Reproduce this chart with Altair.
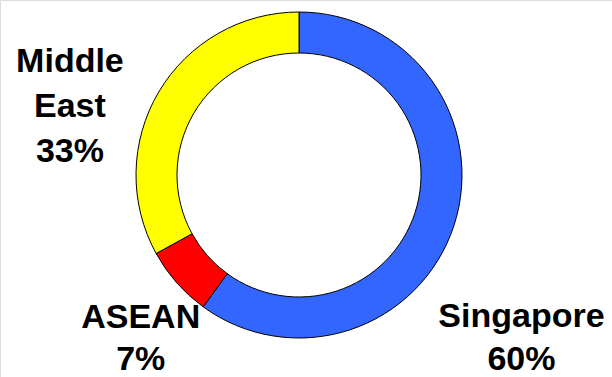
import altair as alt
import pandas as pd

regions = ["Singapore", "ASEAN", "Middle East"]
shares = [60, 7, 33]
order = [1, 2, 3]
colors = ["#3366FF", "#FF0000", "#FFFF00"]

df = pd.DataFrame({"region": regions, "share": shares, "order": order})

center = dict(x=alt.value(299), y=alt.value(175))
theta_scale = alt.Scale(domain=[0, 100])

ring = alt.Chart(df).mark_arc(
    innerRadius=122, outerRadius=163, stroke="black", strokeWidth=1
).encode(
    theta=alt.Theta("share:Q", stack=True, scale=theta_scale),
    order=alt.Order("order:Q"),
    color=alt.Color("region:N", scale=alt.Scale(domain=regions, range=colors), legend=None),
    **center,
)

# label placement tweaks: (dx, dy, line height)
label_style = {
    "Singapore": (18, 86, 43),
    "ASEAN": (3, 11, 42),
    "Middle East": (-44, 6, 45),
}

layers = [ring]
for reg in regions:
    dx, dy, lh = label_style[reg]
    layers.append(
        alt.Chart(df)
        .transform_stack(
            stack="share", groupby=[], as_=["s0", "s1"], sort=[alt.SortField("order")]
        )
        .transform_calculate(
            mid="(datum.s0 + datum.s1) / 2",
            label="datum.region + ' ' + datum.share + '%'",
        )
        .transform_filter(alt.datum.region == reg)
        .mark_text(
            radius=215,
            font="Liberation Sans",
            fontSize=34,
            fontWeight="bold",
            color="black",
            lineBreak=" ",
            lineHeight=lh,
            align="center",
            baseline="alphabetic",
            dx=dx,
            dy=dy,
        )
        .encode(
            theta=alt.Theta("mid:Q", stack=None, scale=theta_scale),
            text="label:N",
            **center,
        )
    )

chart = (
    alt.layer(*layers)
    .properties(width=612, height=377, autosize=alt.AutoSizeParams(type="none"), padding=0)
    .configure_view(stroke=None)
    .configure(background="white")
)

chart.save("out.html", embed_options={"renderer": "svg", "actions": False})
